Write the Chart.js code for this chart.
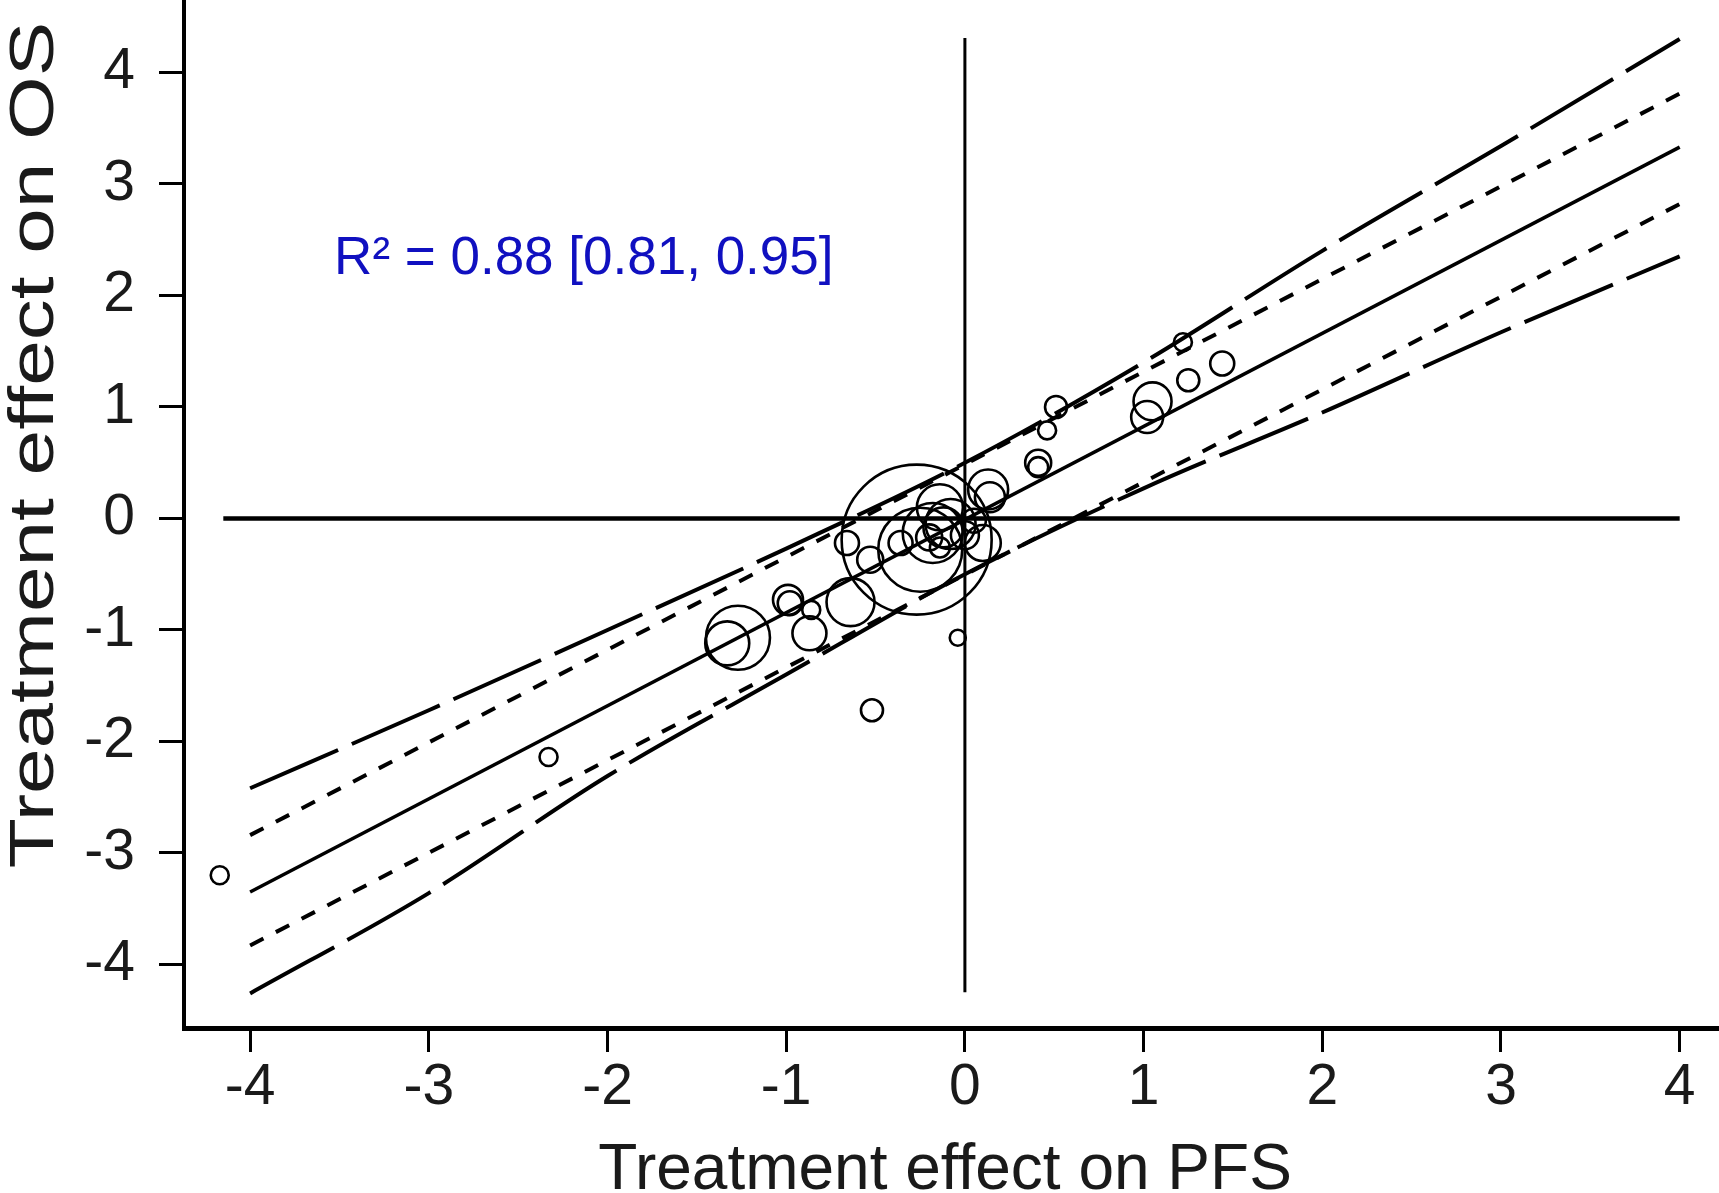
<!DOCTYPE html>
<html>
<head>
<meta charset="utf-8">
<script src="https://cdn.jsdelivr.net/npm/chart.js@4/dist/chart.umd.min.js"></script>
<style>
  html, body { margin: 0; padding: 0; background: #fff; }
  #wrap { width: 1719px; height: 1193px; position: relative; }
</style>
</head>
<body>
<div id="wrap"><canvas id="surrogateChart"></canvas></div>
<script>
// tick values on both axes
var xTicks = [-4, -3, -2, -1, 0, 1, 2, 3, 4];
var yTicks = [-4, -3, -2, -1, 0, 1, 2, 3, 4];

// regression line (solid)
var fitX = [-4, 4];
var fitY = [-3.35, 3.33];

// inner band (short dashes)
var innerX = [-4, 4];
var innerUpper = [-2.84, 3.81];
var innerLower = [-3.83, 2.82];

// outer band (long dashes), read at each unit
var outerX = [-4, -3, -2, -1, 0, 1, 2, 3, 4];
var outerUpper = [-2.42, -1.72, -1.0, -0.27, 0.5, 1.40, 2.40, 3.34, 4.30];
var outerLower = [-4.26, -3.36, -2.31, -1.40, -0.5, 0.27, 0.95, 1.67, 2.35];

// zero reference lines
var zeroLineX = [-4.15, 4.0];
var zeroLineY = [4.31, -4.25];

// trials: PFS effect, OS effect, bubble radius (px)
var trialX = [-4.17, -2.33, -0.52, -0.04, 1.22, 1.25, 1.44, 1.05, 1.02, 0.51, 0.46, 0.41, 0.41,
              0.13, 0.14, 0.10, -0.27, -0.25, -0.18, -0.12, -0.20, -0.14, -0.14, -0.66, -0.36,
              -0.53, -0.64, -0.87, -0.86, -0.99, -0.98, -1.27, -1.33, 0.05, -0.08, 0.0];
var trialY = [-3.20, -2.14, -1.72, -1.07, 1.58, 1.24, 1.39, 1.05, 0.91, 1.00, 0.79, 0.50, 0.46,
              0.26, 0.19, -0.22, -0.19, -0.28, -0.13, -0.08, -0.17, -0.26, 0.10, -0.22, -0.22,
              -0.37, -0.75, -1.03, -0.82, -0.73, -0.76, -1.07, -1.12, -0.02, -0.05, -0.15];
var trialR = [9, 9, 11, 8, 9, 11, 12, 19, 16, 11, 9, 13, 10,
              20, 15, 18, 75, 42, 30, 20, 13, 10, 23, 12, 12,
              13, 24, 17, 9, 15, 12, 32, 22, 12, 25, 14];

var r2Label = 'R² = 0.88 [0.81, 0.95]';
var r2Pos = { x: -3.53, y: 2.19 };

function pairs(xs, ys) {
    return xs.map(function (x, i) { return { x: x, y: ys[i] }; });
}

var bubbles = trialX.map(function (x, i) {
    return { x: x, y: trialY[i], r: trialR[i] };
});

function lineSet(data, dash, width, interp) {
    return {
        type: 'line',
        data: data,
        borderColor: '#000',
        borderWidth: width,
        borderDash: dash,
        pointRadius: 0,
        fill: false,
        tension: 0,
        cubicInterpolationMode: interp || 'default'
    };
}

// titles and the R² note drawn on the canvas
var textPlugin = {
    id: 'textPlugin',
    afterDraw: function (chart) {
        var ctx = chart.ctx;
        var xs = chart.scales.x, ys = chart.scales.y;
        ctx.save();
        ctx.fillStyle = '#1010c0';
        ctx.font = '53px "Liberation Sans", Arial, sans-serif';
        ctx.textAlign = 'left';
        ctx.textBaseline = 'alphabetic';
        ctx.fillText(r2Label, xs.getPixelForValue(r2Pos.x), ys.getPixelForValue(r2Pos.y));

        ctx.fillStyle = '#1a1a1a';
        ctx.font = '64px "Liberation Sans", Arial, sans-serif';
        ctx.textAlign = 'center';
        ctx.fillText('Treatment effect on PFS', 945, 1189);

        ctx.translate(53, 445);
        ctx.rotate(-Math.PI / 2);
        ctx.scale(1.3, 1);
        ctx.font = '63px "Liberation Sans", Arial, sans-serif';
        ctx.fillText('Treatment effect on OS', 0, 0);
        ctx.restore();
    }
};

var ctx = document.getElementById('surrogateChart').getContext('2d');
var chart = new Chart(ctx, {
    type: 'bubble',
    data: {
        datasets: [
            lineSet(pairs(zeroLineX, [0, 0]), [], 4.5),
            lineSet(pairs([0, 0], zeroLineY), [], 3),
            lineSet(pairs(fitX, fitY), [], 3.5),
            lineSet(pairs(innerX, innerUpper), [15, 14], 4),
            lineSet(pairs(innerX, innerLower), [15, 14], 4),
            lineSet(pairs(outerX, outerUpper), [96, 15], 4, 'monotone'),
            lineSet(pairs(outerX, outerLower), [96, 15], 4, 'monotone'),
            {
                type: 'bubble',
                data: bubbles,
                backgroundColor: 'rgba(0,0,0,0)',
                borderColor: '#000',
                borderWidth: 2.6
            }
        ]
    },
    options: {
        responsive: true,
        maintainAspectRatio: false,
        animation: false,
        events: [],
        layout: { padding: 0, autoPadding: false },
        plugins: {
            legend: { display: false },
            tooltip: { enabled: false }
        },
        scales: {
            x: {
                type: 'linear',
                min: -4.37,
                max: 4.22,
                afterBuildTicks: function (scale) {
                    scale.ticks = xTicks.map(function (v) { return { value: v }; });
                },
                afterFit: function (scale) {
                    scale.height = 165;
                    scale.paddingLeft = 0;
                    scale.paddingRight = 0;
                },
                grid: {
                    drawOnChartArea: false,
                    tickLength: 24,
                    tickWidth: 3,
                    tickColor: '#000'
                },
                border: { display: true, color: '#000', width: 5 },
                ticks: {
                    color: '#1a1a1a',
                    padding: 2,
                    font: { family: '"Liberation Sans", Arial, sans-serif', size: 57 },
                    maxRotation: 0
                }
            },
            y: {
                type: 'linear',
                min: -4.57,
                max: 4.65,
                afterBuildTicks: function (scale) {
                    scale.ticks = yTicks.map(function (v) { return { value: v }; });
                },
                afterFit: function (scale) {
                    scale.width = 184;
                    scale.paddingTop = 0;
                    scale.paddingBottom = 0;
                },
                grid: {
                    drawOnChartArea: false,
                    tickLength: 25,
                    tickWidth: 3,
                    tickColor: '#000'
                },
                border: { display: true, color: '#000', width: 4 },
                ticks: {
                    color: '#1a1a1a',
                    padding: 24,
                    font: { family: '"Liberation Sans", Arial, sans-serif', size: 57 }
                }
            }
        }
    },
    plugins: [textPlugin]
});
</script>
</body>
</html>
